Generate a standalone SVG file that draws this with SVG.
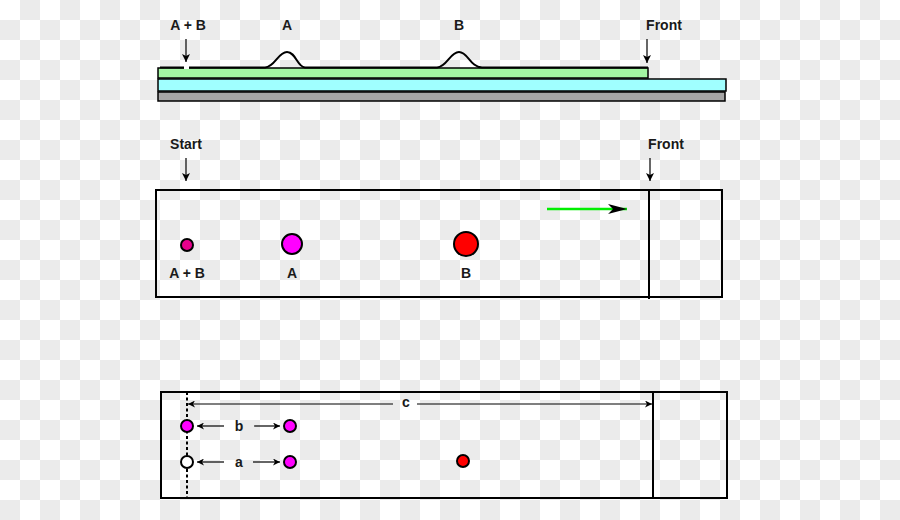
<svg xmlns="http://www.w3.org/2000/svg" width="900" height="520" viewBox="0 0 900 520">
<defs>
<pattern id="checker" x="0" y="0" width="40" height="40" patternUnits="userSpaceOnUse">
<rect width="40" height="40" fill="#ffffff"/>
<rect x="20" y="0" width="20" height="20" fill="#ebebeb"/>
<rect x="0" y="20" width="20" height="20" fill="#ebebeb"/>
</pattern>
<marker id="ah" markerUnits="userSpaceOnUse" markerWidth="10" markerHeight="8" refX="8" refY="4" orient="auto">
<path d="M0,0 L8,4 L0,8 L2,4 z" fill="#000"/>
</marker>
<marker id="ahs" markerUnits="userSpaceOnUse" markerWidth="9" markerHeight="7" refX="7" refY="3.5" orient="auto-start-reverse">
<path d="M0,0 L7,3.5 L0,7 L2,3.5 z" fill="#000"/>
</marker>
<marker id="ahbig" markerUnits="userSpaceOnUse" markerWidth="20" markerHeight="10" refX="19" refY="5" orient="auto">
<path d="M0,0 L19,5 L0,10 L5,5 z" fill="#000"/>
</marker>
</defs>
<style>
.lbl{font-family:"Liberation Sans",Arial,sans-serif;font-size:14px;font-weight:bold;fill:#1a1a1a;text-anchor:middle}
.box{fill:none;stroke:#000;stroke-width:2}
.thin{stroke:#000;stroke-width:1.2;fill:none}
.spot{stroke:#000;stroke-width:2}
</style>
<rect width="900" height="520" fill="url(#checker)"/>

<g id="plate-side">
<rect x="158" y="92" width="567" height="9" fill="#a6a6a6" stroke="#000" stroke-width="1.5"/>
<rect x="158" y="79" width="568" height="12" fill="#a0ffff" stroke="#000" stroke-width="1.5"/>
<rect x="158" y="68" width="490" height="10" fill="#a3f7a3" stroke="#000" stroke-width="1.5"/>
<path d="M160,67.5 L265,67.5 C275,67 278,52 287,52 C296,52 297,67 305,67.5 L437,67.5 C447,67 450,52 459,52 C468,52 470,67 482,67.5 L648,67.5" fill="none" stroke="#000" stroke-width="2"/>
<line x1="184" y1="67.5" x2="189" y2="67.5" stroke="#ffffff" stroke-width="3"/>
</g>

<g id="plate-top">
<rect x="156" y="190" width="566" height="107" class="box"/>
<line x1="649" y1="190" x2="649" y2="299" stroke="#000" stroke-width="2"/>
</g>

<g id="spot-ab"><circle cx="187" cy="245" r="6" fill="#e6008c" class="spot"/></g>
<g id="spot-a"><circle cx="292" cy="244" r="10" fill="#ff00ff" class="spot"/></g>
<g id="spot-b"><circle cx="466" cy="244" r="12" fill="#ff0000" class="spot"/></g>

<g id="plate-measure">
<rect x="161" y="392" width="566" height="106" class="box"/>
<line x1="653" y1="392" x2="653" y2="498" stroke="#000" stroke-width="2"/>
<line x1="187" y1="392" x2="187" y2="498" stroke="#000" stroke-width="2" stroke-dasharray="3,2.5"/>
</g>

<g id="m-spot-start-b"><circle cx="187" cy="426" r="6" fill="#ff00ff" class="spot"/></g>
<g id="m-spot-start-a"><circle cx="187" cy="462" r="6" fill="#ffffff" class="spot"/></g>
<g id="m-spot-b"><circle cx="290" cy="426" r="6" fill="#ff00ff" class="spot"/></g>
<g id="m-spot-a"><circle cx="290" cy="462" r="6" fill="#ff00ff" class="spot"/></g>
<g id="m-spot-red"><circle cx="463" cy="461" r="6" fill="#ff0000" class="spot"/></g>

<g id="labels">
<text class="lbl" x="188" y="30">A + B</text>
<text class="lbl" x="287" y="30">A</text>
<text class="lbl" x="459" y="30">B</text>
<text class="lbl" x="664" y="30">Front</text>
<text class="lbl" x="186" y="149">Start</text>
<text class="lbl" x="666" y="149">Front</text>
<text class="lbl" x="187" y="278">A + B</text>
<text class="lbl" x="292" y="278">A</text>
<text class="lbl" x="466" y="278">B</text>
<text class="lbl" x="406" y="407">c</text>
<text class="lbl" x="239" y="431">b</text>
<text class="lbl" x="239" y="467">a</text>
</g>

<g id="connectors">
<line x1="186" y1="39" x2="186" y2="62" class="thin" marker-end="url(#ah)"/>
<line x1="647" y1="39" x2="647" y2="63" class="thin" marker-end="url(#ah)"/>
<line x1="186" y1="158" x2="186" y2="181" class="thin" marker-end="url(#ah)"/>
<line x1="650" y1="158" x2="650" y2="181" class="thin" marker-end="url(#ah)"/>
<line x1="547" y1="209" x2="627" y2="209" stroke="#00ee00" stroke-width="2.5" marker-end="url(#ahbig)"/>
<line x1="393" y1="404" x2="188" y2="404" class="thin" marker-end="url(#ahs)"/>
<line x1="417" y1="404" x2="652" y2="404" class="thin" marker-end="url(#ahs)"/>
<line x1="224" y1="426" x2="197" y2="426" class="thin" marker-end="url(#ahs)"/>
<line x1="254" y1="426" x2="280" y2="426" class="thin" marker-end="url(#ahs)"/>
<line x1="224" y1="462" x2="197" y2="462" class="thin" marker-end="url(#ahs)"/>
<line x1="253" y1="462" x2="280" y2="462" class="thin" marker-end="url(#ahs)"/>
</g>
</svg>
